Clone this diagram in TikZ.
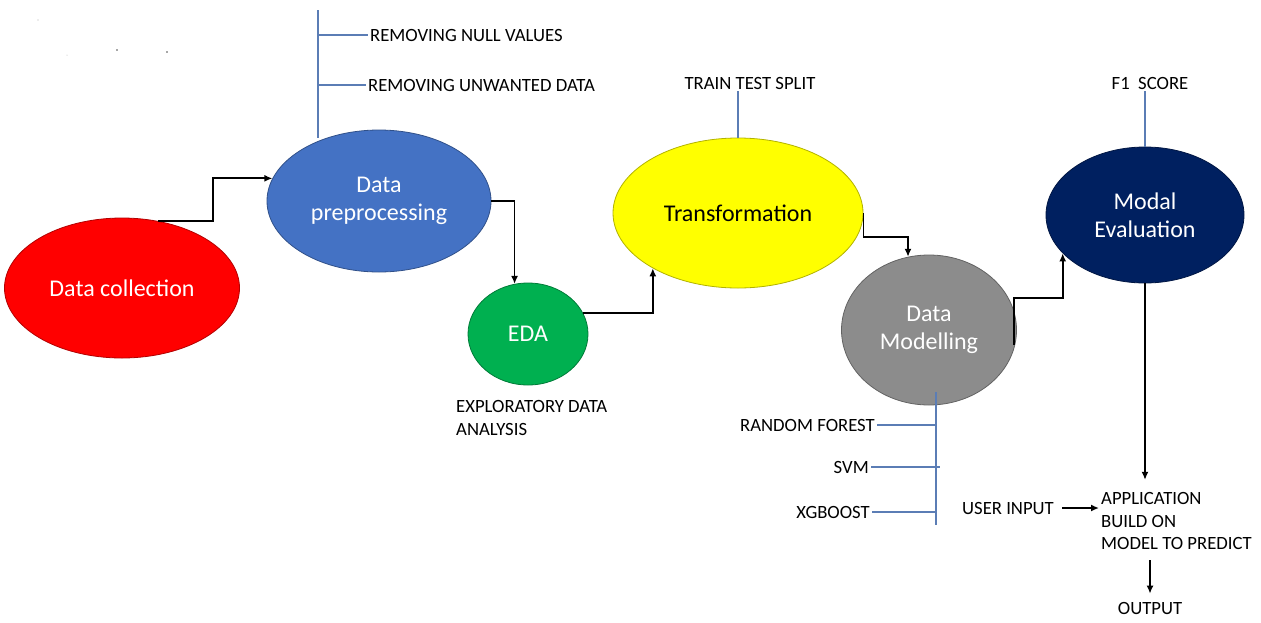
\documentclass[tikz,border=0pt]{standalone}
\usepackage{fontspec}
\setmainfont{Carlito}
\usetikzlibrary{arrows.meta, calc, shapes.geometric}
\definecolor{collred}{HTML}{FF0000}
\definecolor{prepblue}{HTML}{4472C4}
\definecolor{edagreen}{HTML}{00B050}
\definecolor{transyellow}{HTML}{FFFF00}
\definecolor{modelgray}{HTML}{8C8C8C}
\definecolor{evalnavy}{HTML}{002060}
\definecolor{branchblue}{HTML}{5B7DB5}
\tikzset{
  stage/.style = {ellipse, draw=#1!70!black, line width=0.8pt, fill=#1, text=white,
    font=\fontsize{24}{28}\selectfont, align=center, inner sep=0pt},
  caption/.style = {font=\fontsize{18.7}{22.8}\selectfont, inner sep=2pt},
  branch/.style = {draw=branchblue, line width=1.7pt},
  flow/.style = {draw=black, line width=1.7pt, -{Latex[length=8pt, width=7pt]}},
}

\begin{document}
\begin{tikzpicture}[x=1pt, y=-1pt]
    \useasboundingbox (0,0) rectangle (1261,622);
    % specks
    \fill[black!30] (38,20) circle (0.6) (67,55) circle (0.5);
    \fill[black!70] (117,50) circle (0.9) (167,52) circle (0.9);
    % stages
    \node[stage=collred, minimum width=235, minimum height=140] (coll) at (122,288) {Data collection};
    \node[stage=prepblue, minimum width=224, minimum height=142] (prep) at (379,201) {Data\\preprocessing};
    \node[stage=edagreen, minimum width=120, minimum height=102] (eda) at (528,334) {EDA};
    \node[stage=transyellow, text=black, minimum width=250, minimum height=150] (trans) at (738,213) {Transformation};
    \node[stage=modelgray, minimum width=175, minimum height=150] (model) at (929,330) {Data\\Modelling};
    \node[stage=evalnavy, minimum width=198, minimum height=136] (eval) at (1145,215) {Modal\\Evaluation};
    % captions
    \node[caption, anchor=west] (nullv) at (368,35) {REMOVING NULL VALUES};
    \node[caption, anchor=west] (unwv) at (366,85) {REMOVING UNWANTED DATA};
    \node[caption] (tts) at (750,83) {TRAIN TEST SPLIT};
    \node[caption] (f1) at (1150,83) {F1\ \ SCORE};
    \node[caption, anchor=north west, align=left] (edatxt) at (454,398) {EXPLORATORY DATA\\ANALYSIS};
    \node[caption, anchor=east] (rf) at (877,425) {RANDOM FOREST};
    \node[caption, anchor=east] (svm) at (871,467) {SVM};
    \node[caption, anchor=east] (xgb) at (872,512) {XGBOOST};
    \node[caption] (user) at (1008,508) {USER INPUT};
    \node[caption, anchor=west, align=left] (app) at (1099,521) {APPLICATION\\BUILD ON\\MODEL TO PREDICT};
    \node[caption] (out) at (1150,608) {OUTPUT};
    % branches
    \coordinate (ptop) at (318,10);
    \coordinate (pbot) at (318,138);
    \draw[branch] (ptop) -- (pbot);
    \draw[branch] (nullv.west -| ptop) -- (nullv.west);
    \draw[branch] (unwv.west -| ptop) -- (unwv.west);
    \draw[branch] (trans.north) -- (trans.north |- tts.south);
    \draw[branch] (eval.north) -- (eval.north |- f1.south);
    \coordinate (mtop) at (936,392);
    \coordinate (mbot) at (936,525);
    \draw[branch] (mtop) -- (mbot);
    \draw[branch] (rf.east) -- (rf.east -| mtop);
    \draw[branch] (svm.east) -- ($(svm.east -| mtop)+(4,0)$);
    \draw[branch] (xgb.east) -- (xgb.east -| mtop);
    % flow
    \draw[flow] (coll.62) -- ++(55,0) |- (prep.168);
    \draw[flow] (prep.east) -| (eda.105);
    \draw[flow] (eda.21) -| (trans.213);
    \draw[flow] (trans.east) -- ++(0,24) -| (model.106);
    \coordinate (mout) at ($(model.east)+(-3,15)$);
    \draw[flow] (mout) -- ++(0,-47) -| (eval.205);
    \draw[flow, shorten >=10pt] (eval.south) -- (eval.south |- app.north);
    \draw[flow, shorten <=6pt] (user.east) -- (user.east -| app.west);
    \draw[flow, shorten <=8pt, shorten >=6pt] (app.south -| out.north) -- (out.north);
\end{tikzpicture}
\end{document}
